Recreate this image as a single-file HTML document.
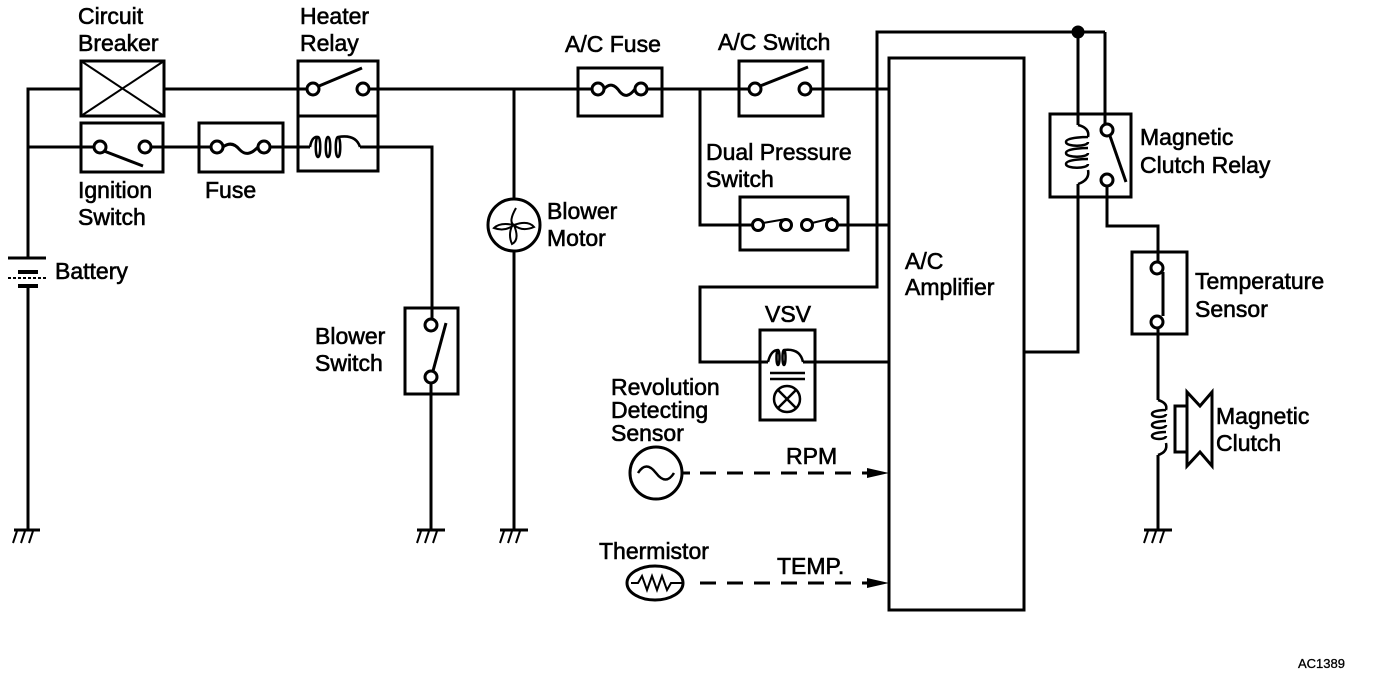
<!DOCTYPE html>
<html><head><meta charset="utf-8"><style>
html,body{margin:0;padding:0;background:#fff;width:1376px;height:676px;overflow:hidden}
svg{display:block}
text{font-family:"Liberation Sans",sans-serif;font-size:23px;fill:#000;stroke:#000;stroke-width:0.6px}
</style></head><body>
<svg width="1376" height="676" viewBox="0 0 1376 676" xmlns="http://www.w3.org/2000/svg">
<g stroke="#000" stroke-width="3" fill="none">
<polyline points="80,89 28,89 28,258"/>
<line x1="28" y1="286" x2="28" y2="530"/>
<line x1="8" y1="258" x2="46" y2="258"/>
<line x1="18" y1="272" x2="38" y2="272" stroke-width="4"/>
<line x1="8" y1="278" x2="46" y2="278" stroke-width="2" stroke-dasharray="3 2"/>
<line x1="18" y1="286" x2="38" y2="286" stroke-width="4"/>
<rect x="81" y="61" width="83" height="55"/>
<line x1="81" y1="61" x2="164" y2="116" stroke-width="2"/>
<line x1="164" y1="61" x2="81" y2="116" stroke-width="2"/>
<line x1="164" y1="89" x2="306" y2="89"/>
<rect x="298" y="61" width="80" height="110"/>
<line x1="298" y1="116" x2="378" y2="116"/>
<circle cx="313" cy="89" r="6" fill="#fff"/>
<circle cx="363" cy="89" r="6" fill="#fff"/>
<line x1="319" y1="86" x2="362" y2="68"/>
<line x1="369" y1="89" x2="591" y2="89"/>
<line x1="28" y1="147" x2="94" y2="147"/>
<rect x="81" y="123" width="82" height="49"/>
<circle cx="100" cy="147" r="6" fill="#fff"/>
<circle cx="145" cy="147" r="6" fill="#fff"/>
<line x1="104" y1="151" x2="143" y2="166"/>
<line x1="151" y1="147" x2="211" y2="147"/>
<rect x="199" y="123" width="84" height="49"/>
<circle cx="217" cy="147" r="6" fill="#fff"/>
<circle cx="264" cy="147" r="6" fill="#fff"/>
<path d="M223,147 Q232,140 240,150 Q248,158 258,147"/>
<line x1="270" y1="147" x2="310" y2="147"/>
<path d="M310,147 Q312,136 318,137 M318,137 c-3,0 -3,20 0,20 c3,0 3,-20 0,-20 M328,137 c-3,0 -3,20 0,20 c3,0 3,-20 0,-20 M338,137 c-3,0 -3,20 0,20 c3,0 3,-20 0,-20 M338,137 Q356,134 360,147" stroke-width="2.5"/>
<polyline points="360,147 432,147 432,319"/>
<rect x="405" y="308" width="53" height="86"/>
<circle cx="431" cy="325" r="6" fill="#fff"/>
<circle cx="431" cy="377" r="6" fill="#fff"/>
<line x1="433" y1="371" x2="446" y2="323"/>
<line x1="431" y1="383" x2="431" y2="530"/>
<line x1="514" y1="89" x2="514" y2="530"/>
<circle cx="514" cy="225" r="26" fill="#fff"/>
<path d="M516,208 Q508,222 514,225 Q520,240 512,244 Q508,235 512,226 M514,225 Q500,222 494,228 Q505,232 514,225 Q528,220 534,227 Q522,232 514,225" stroke-width="2"/>
<rect x="578" y="68" width="84" height="48"/>
<circle cx="598" cy="89" r="6" fill="#fff"/>
<circle cx="641" cy="89" r="6" fill="#fff"/>
<path d="M604,89 Q612,80 620,92 Q627,100 635,89"/>
<line x1="647" y1="89" x2="749" y2="89"/>
<rect x="739" y="61" width="84" height="55"/>
<circle cx="755" cy="89" r="6" fill="#fff"/>
<circle cx="805" cy="89" r="6" fill="#fff"/>
<line x1="760" y1="86" x2="808" y2="67"/>
<line x1="811" y1="89" x2="889" y2="89"/>
<polyline points="700,89 700,225 752,225"/>
<rect x="740" y="197" width="108" height="53"/>
<circle cx="758" cy="225" r="5.5" fill="#fff"/>
<circle cx="786" cy="225" r="5.5" fill="#fff"/>
<circle cx="807" cy="225" r="5.5" fill="#fff"/>
<circle cx="832" cy="225" r="5.5" fill="#fff"/>
<line x1="763" y1="223" x2="786" y2="219" stroke-width="2"/>
<line x1="812" y1="223" x2="833" y2="218" stroke-width="2"/>
<line x1="838" y1="225" x2="889" y2="225"/>
<polyline points="1105,32 877,32 877,287 700,287 700,362 768,362"/>
<rect x="760" y="330" width="55" height="90"/>
<path d="M768,362 Q771,350 778,350 M778,350 c-2,0 -2,15 0,15 c2,0 2,-15 0,-15 M784,350 c-2,0 -2,15 0,15 c2,0 2,-15 0,-15 M784,350 Q800,348 803,362" stroke-width="2.5"/>
<line x1="803" y1="362" x2="889" y2="362"/>
<line x1="770" y1="373" x2="805" y2="373" stroke-width="2.5"/>
<line x1="770" y1="379" x2="805" y2="379" stroke-width="2.5"/>
<circle cx="787" cy="399" r="13" stroke-width="2.5"/>
<line x1="778" y1="390" x2="796" y2="408" stroke-width="2.5"/>
<line x1="796" y1="390" x2="778" y2="408" stroke-width="2.5"/>
<rect x="889" y="58" width="135" height="552"/>
<circle cx="1078" cy="32" r="5" fill="#000"/>
<line x1="1078" y1="32" x2="1078" y2="125"/>
<line x1="1105" y1="32" x2="1105" y2="124"/>
<rect x="1050" y="114" width="81" height="83"/>
<path d="M1078,125 Q1090,128 1088,137 M1088,137 c0,0 -22,0 -22,5 c0,5 22,5 22,0 M1088,148 c0,0 -22,0 -22,5 c0,5 22,5 22,0 M1088,159 c0,0 -22,0 -22,5 c0,5 22,5 22,0 M1088,170 Q1090,180 1078,184" stroke-width="2.5"/>
<polyline points="1078,184 1078,352 1024,352"/>
<circle cx="1107" cy="130" r="6" fill="#fff"/>
<circle cx="1107" cy="180" r="6" fill="#fff"/>
<line x1="1110" y1="136" x2="1126" y2="182"/>
<polyline points="1107,186 1107,226 1158,226 1158,262"/>
<rect x="1132" y="252" width="55" height="82"/>
<circle cx="1157" cy="268" r="6" fill="#fff"/>
<circle cx="1157" cy="322" r="6" fill="#fff"/>
<line x1="1163" y1="272" x2="1163" y2="316"/>
<line x1="1158" y1="328" x2="1158" y2="400"/>
<path d="M1158,400 Q1168,403 1166,410 M1166,410 c0,0 -14,0 -14,4 c0,4 14,4 14,0 M1166,421 c0,0 -14,0 -14,4 c0,4 14,4 14,0 M1166,432 c0,0 -14,0 -14,4 c0,4 14,4 14,0 M1166,443 Q1168,452 1158,455" stroke-width="2.5"/>
<line x1="1158" y1="455" x2="1158" y2="530"/>
<rect x="1175" y="406" width="12" height="46"/>
<path d="M1187,392 L1187,466 L1200,452 L1212,466 L1212,392 L1200,406 Z"/>
<circle cx="656" cy="473" r="26"/>
<path d="M638,473 Q646,460 656,473 Q666,486 674,473" stroke-width="2.5"/>
<line x1="682" y1="473" x2="690" y2="473"/>
<line x1="700" y1="473" x2="870" y2="473" stroke-dasharray="16 11"/>
<ellipse cx="655" cy="583" rx="28" ry="17"/>
<polyline points="631,583 638,583 642,576 647,590 652,576 657,590 662,576 667,590 671,583 683,583" stroke-width="2"/>
<line x1="700" y1="583" x2="870" y2="583" stroke-dasharray="16 11"/>
</g>
<polygon points="867,468 889,473 867,478" fill="#000"/>
<polygon points="867,578 889,583 867,588" fill="#000"/>
<g stroke="#000" stroke-width="3">
<line x1="14" y1="530" x2="40" y2="530"/><line x1="417" y1="530" x2="445" y2="530"/><line x1="500" y1="530" x2="528" y2="530"/><line x1="1144" y1="530" x2="1172" y2="530"/>
</g>
<g stroke="#000" stroke-width="2">
<path d="M17,531 l-4,12 M25,531 l-4,12 M33,531 l-4,12 M421,531 l-4,12 M429,531 l-4,12 M437,531 l-4,12 M504,531 l-4,12 M512,531 l-4,12 M520,531 l-4,12 M1148,531 l-4,12 M1156,531 l-4,12 M1164,531 l-4,12"/>
</g>
<text x="78" y="24">Circuit</text>
<text x="78" y="51">Breaker</text>
<text x="300" y="24">Heater</text>
<text x="300" y="51">Relay</text>
<text x="78" y="198">Ignition</text>
<text x="78" y="225">Switch</text>
<text x="205" y="198">Fuse</text>
<text x="55" y="279">Battery</text>
<text x="547" y="219">Blower</text>
<text x="547" y="246">Motor</text>
<text x="315" y="344">Blower</text>
<text x="315" y="371">Switch</text>
<text x="565" y="52">A/C Fuse</text>
<text x="718" y="50">A/C Switch</text>
<text x="706" y="160">Dual Pressure</text>
<text x="706" y="187">Switch</text>
<text x="765" y="322">VSV</text>
<text x="611" y="395">Revolution</text>
<text x="611" y="418">Detecting</text>
<text x="611" y="441">Sensor</text>
<text x="786" y="464">RPM</text>
<text x="599" y="559">Thermistor</text>
<text x="777" y="574">TEMP.</text>
<text x="905" y="269">A/C</text>
<text x="905" y="295">Amplifier</text>
<text x="1140" y="145">Magnetic</text>
<text x="1140" y="173">Clutch Relay</text>
<text x="1195" y="289">Temperature</text>
<text x="1195" y="317">Sensor</text>
<text x="1216" y="424">Magnetic</text>
<text x="1216" y="451">Clutch</text>
<text x="1298" y="668" style="font-size:13px;stroke-width:0.3px">AC1389</text>
</svg>
</body></html>
